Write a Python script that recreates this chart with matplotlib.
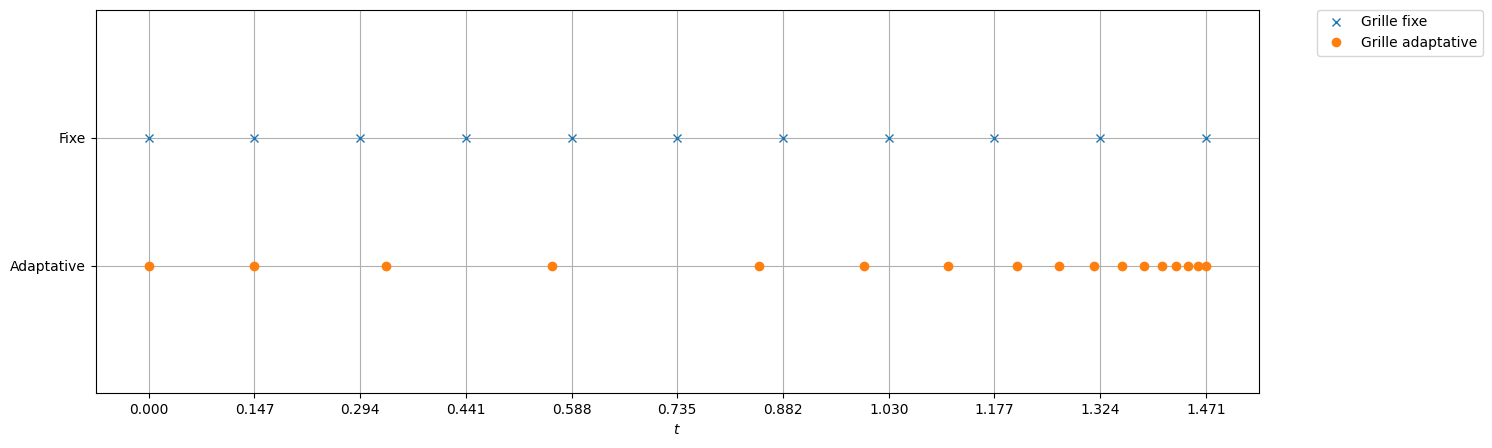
import numpy as np
import matplotlib
matplotlib.use("Agg")
import matplotlib.pyplot as plt

# grille fixe : 11 points réguliers
t_fixe = [0.0, 0.147077, 0.294154, 0.441231, 0.588308, 0.735385,
          0.882462, 1.029539, 1.176616, 1.323693, 1.47077]
# grille adaptative
t_adapt = [0.0, 0.1461, 0.3300, 0.5609, 0.8484, 0.9947, 1.1122, 1.2074,
           1.2672, 1.3159, 1.3535, 1.3841, 1.4092, 1.4287, 1.4459, 1.4593,
           1.47077]
y_labels = ["Adaptative", "Fixe"]

fig, ax = plt.subplots(figsize=(14.92, 4.48), dpi=100)
ax.plot(t_fixe, np.ones(len(t_fixe)), "x", label="Grille fixe")
ax.plot(t_adapt, np.zeros(len(t_adapt)), "o", label="Grille adaptative")

ax.set_yticks([0, 1])
ax.set_yticklabels(y_labels)
ax.set_ylim(-1, 2)
ax.set_xticks(t_fixe)
ax.set_xticklabels(["%.3f" % v for v in t_fixe])
ax.set_xlabel("$t$")
ax.grid(True)
ax.legend(bbox_to_anchor=(1.05, 1), loc="upper left", borderaxespad=0.)

fig.subplots_adjust(left=0.0643, right=0.8436, top=0.978, bottom=0.122)
fig.savefig("out.png", dpi=100)
